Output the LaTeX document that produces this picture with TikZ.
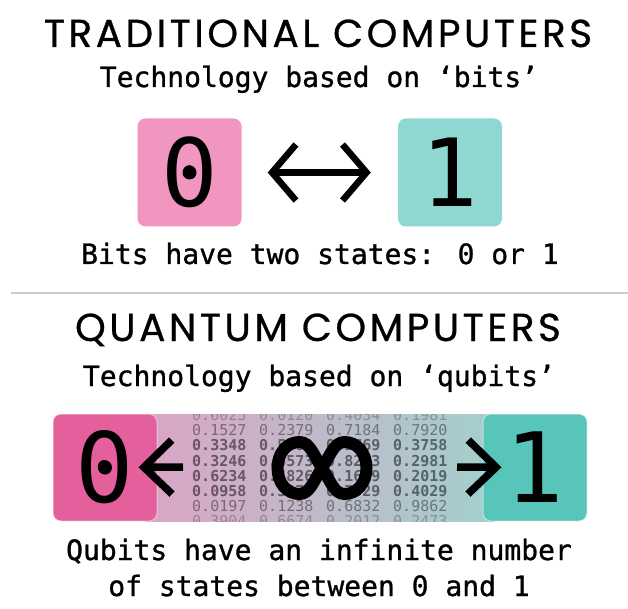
\documentclass[tikz,border=0pt]{standalone}
\usepackage{fontspec}
\setmainfont{Poppins}
\newfontfamily\titlefont{Poppins}[LetterSpace=9, FakeBold=0.7]
\newfontfamily\mono{DejaVu Sans Mono}
\newfontfamily\monob{DejaVu Sans Mono}[FakeBold=1]
\usetikzlibrary{arrows.meta}
\definecolor{tpink}{HTML}{F096C0}
\definecolor{tteal}{HTML}{8FD8D1}
\definecolor{qpink}{HTML}{E4609C}
\definecolor{qteal}{HTML}{57C5B9}
\definecolor{gleft}{HTML}{DBA5C6}
\definecolor{gright}{HTML}{A3CFCD}
\definecolor{sepgray}{HTML}{CCCCCC}
\begin{document}
\begin{tikzpicture}[x=1pt,y=-1pt,
  titletext/.style={font=\titlefont\fontsize{39}{39}\selectfont, anchor=base, inner sep=0pt},
  subtext/.style={font=\monob\fontsize{28}{28}\selectfont, anchor=base, inner sep=0pt},
  bitbox/.style={rounded corners=8pt, minimum width=104pt, minimum height=108pt, inner sep=0pt, font=\mono\fontsize{94}{94}\selectfont},
  qbox/.style={rounded corners=8pt, minimum width=104pt, minimum height=107pt, inner sep=0pt, font=\mono\fontsize{97}{97}\selectfont, draw=white, draw opacity=0.5, line width=1pt},
  zerodot/.style={circle, fill=black, minimum size=14pt, inner sep=0pt, draw=none},
  numtext/.style={font=\mono\fontsize{15}{15}\selectfont, anchor=base west, inner sep=0pt},
  outerrow/.style={text opacity=0.25},
  midrow/.style={text opacity=0.4},
  innerrow/.style={text opacity=0.5, font=\mono\bfseries\fontsize{15}{15}\selectfont},
  tarrow/.style={line width=6.5pt, {Straight Barb[length=24pt,width=56pt]}-{Straight Barb[length=24pt,width=56pt]}},
  qarrow/.style={line width=7.5pt, -{Straight Barb[length=28pt,width=54pt]}}
]
\useasboundingbox (0,0) rectangle (628,609);
\fill[white] (0,0) rectangle (628,609);

% ---------- traditional ----------
\node[titletext] (t1) at (318,47) {TRADITIONAL COMPUTERS};
\node[subtext] (s1) at (319,87) {Technology based on ‘bits’};
\node[bitbox, fill=tpink] (b0) at (189.5,172.5) {0};
\node[bitbox, fill=tteal] (b1) at (450,172.5) {1};
\node[zerodot] (d0) at (b0.center) {};
\draw[tarrow, shorten <=26pt, shorten >=27pt] (b0) -- (b1);
\node[subtext] (c1) at (320,264) {Bits have two states: 0 or 1};

\coordinate (sepL) at (11,293);
\coordinate (sepR) at (628,293);
\draw[sepgray, line width=2pt] (sepL) -- (sepR);

% ---------- quantum ----------
\node[titletext] (t2) at (318,341) {QUANTUM COMPUTERS};
\node[subtext] (s2) at (319,386) {Technology based on ‘qubits’};

\shade[left color=gleft, right color=gright] (145,414) rectangle (495,521);

\begin{scope}
\clip (145,414) rectangle (495,521);
\foreach \r/\y/\st/\a/\b/\c/\d in {
  0/415/outerrow/0.6025/0.0120/0.4034/0.1981,
  1/430.2/midrow/0.1527/0.2379/0.7184/0.7920,
  2/445.4/innerrow/0.3348/0.5902/0.1769/0.3758,
  3/460.6/innerrow/0.3246/0.6573/0.8243/0.2981,
  4/475.8/innerrow/0.6234/0.4826/0.1609/0.2019,
  5/491/innerrow/0.0958/0.3373/0.7029/0.4029,
  6/506.2/midrow/0.0197/0.1238/0.6832/0.9862,
  7/521.4/outerrow/0.3904/0.6674/0.2012/0.2473}{
  \node[numtext, \st] (n\r a) at (192,\y+5.4) {\a};
  \node[numtext, \st] (n\r b) at (259,\y+5.4) {\b};
  \node[numtext, \st] (n\r c) at (326,\y+5.4) {\c};
  \node[numtext, \st] (n\r d) at (393,\y+5.4) {\d};
}
\end{scope}

\node[qbox, fill=qpink] (q0) at (105,467.5) {0};
\node[qbox, fill=qteal] (q1) at (535,467.5) {1};
\node[zerodot] (d1) at (q0.center) {};

% infinity
\coordinate (inf) at (322,468);
\begin{scope}[shift={(322,468)}]
\draw[line width=12pt, line cap=round]
  (0,0) .. controls (8,-12) and (12,-26) .. (22.5,-26)
        .. controls (35,-26) and (44.5,-15) .. (44.5,0)
        .. controls (44.5,15) and (35,26) .. (22.5,26)
        .. controls (12,26) and (8,12) .. (0,0)
        .. controls (-8,-12) and (-12,-26) .. (-22.5,-26)
        .. controls (-35,-26) and (-44.5,-15) .. (-44.5,0)
        .. controls (-44.5,15) and (-35,26) .. (-22.5,26)
        .. controls (-12,26) and (-8,12) .. (0,0);
\end{scope}

\coordinate (la) at (183,467);
\coordinate (ra) at (457,467);
\draw[qarrow, shorten >=-19pt] (la) -- (q0);
\draw[qarrow, shorten >=-19pt] (ra) -- (q1);

\node[subtext] (c2a) at (319,560) {Qubits have an infinite number};
\node[subtext] (c2b) at (319,596) {of states between 0 and 1};
\end{tikzpicture}
\end{document}
